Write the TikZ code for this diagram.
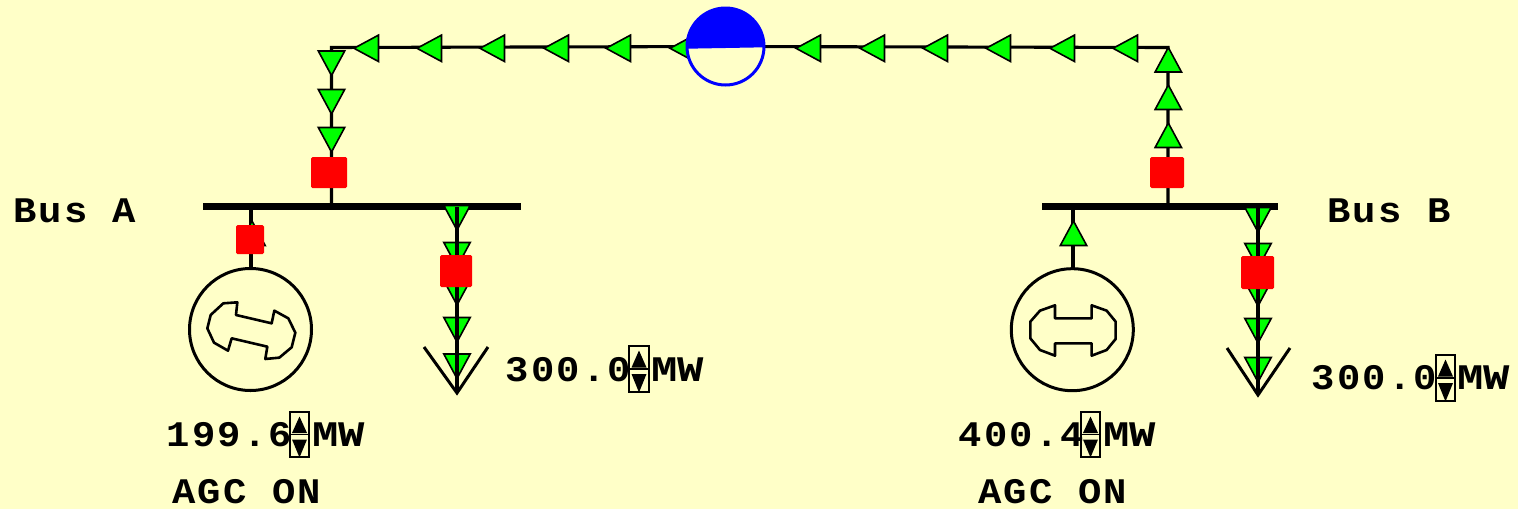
\documentclass[tikz,border=0pt]{standalone}
\usepackage{fontspec}
\setmainfont{Liberation Sans}
\newfontfamily\lblfont[FakeStretch=1.08,LetterSpace=6.2]{Liberation Mono}
\newfontfamily\unitfont[FakeStretch=1.22]{Liberation Mono}
\usetikzlibrary{calc}
\definecolor{bgyellow}{RGB}{255,255,200}
\definecolor{flowgreen}{RGB}{0,255,0}
\definecolor{breakerred}{RGB}{255,0,0}
\definecolor{flowblue}{RGB}{0,0,255}
\tikzset{
  wire/.style={draw=black,line width=3.1pt},
  busbar/.style={fill=black,draw=none,minimum height=7.5pt,inner sep=0pt,outer sep=0pt},
  breaker/.style={fill=breakerred,draw=none,rounded corners=1.5pt,inner sep=0pt,outer sep=0pt},
  flowtri/.style={fill=flowgreen,draw=black,line width=1.6pt,line join=miter},
  gencircle/.style={circle,draw=black,line width=3pt,minimum size=122pt,inner sep=0pt,outer sep=1pt},
  rotor/.style={draw=black,line width=2.6pt,line join=round},
  labelb/.style={inner sep=0pt,outer sep=0pt,anchor=base west,font=\lblfont\fontsize{36}{36}\selectfont\bfseries},
  unitlbl/.style={inner sep=0pt,outer sep=0pt,anchor=base west,font=\unitfont\fontsize{36}{36}\selectfont\bfseries},
  spinbox/.style={draw=black,line width=1.2pt,fill=none,inner sep=0pt},
  loadv/.style={draw=black,line width=3pt,line join=miter},
}
% flow triangle: tip at (#1,#2), direction angle #3 (y axis points down)
\newcommand{\flowtri}[3]{\draw[flowtri,shift={(#1,#2)},rotate=#3] (0,0) -- (-24.5,-13.2) -- (-24.5,13.2) -- cycle;}
% spinner: left, top, right, bottom (pixels)
\newcommand{\spinner}[4]{%
  \draw[spinbox] (#1,#2) rectangle (#3,#4);
  \draw[spinbox] (#1,{(#2+#4)/2}) -- (#3,{(#2+#4)/2});
  \fill[black] ({(#1+#3)/2},#2+4.5) -- ({(#1+#3)/2+7.5},{(#2+#4)/2-1.5}) -- ({(#1+#3)/2-7.5},{(#2+#4)/2-1.5}) -- cycle;
  \fill[black] ({(#1+#3)/2},#4+0.5) -- ({(#1+#3)/2+7.5},{(#2+#4)/2+5}) -- ({(#1+#3)/2-7.5},{(#2+#4)/2+5}) -- cycle;
}
\begin{document}
\begin{tikzpicture}[x=1pt,y=-1pt]
\useasboundingbox (0,0) rectangle (1518,509);
\fill[bgyellow] (0,0) rectangle (1518,509);

% --- buses
\node[busbar,minimum width=318pt] (busA) at (362,206.3) {};
\node[busbar,minimum width=236pt] (busB) at (1160,206.3) {};

% --- named points
\coordinate (cornerL) at (331.5,47.5);
\coordinate (cornerR) at (1168,47.5);
\coordinate (tapAtop) at (331.5,206.3);
\coordinate (tapBtop) at (1168,206.3);
\coordinate (tapAgen) at (251,206.3);
\coordinate (tapBgen) at (1073,206.3);
\coordinate (tapAload) at (457,207);
\coordinate (tapBload) at (1258,207);
\coordinate (tipA) at (457,393);
\coordinate (tipB) at (1258,395);
\coordinate (midTie) at (725.5,46.5);

% --- tie line
\draw[wire] (tapAtop) -- (cornerL) -- (midTie) -- (cornerR) -- (tapBtop);

% --- tie flow triangles
\foreach \t in {354,417,480,544,606,670,796,860,923,986,1050,1113}{\flowtri{\t}{48.3}{180}}
\foreach \t in {75.5,114,152}{\flowtri{331.5}{\t}{-90}}
\foreach \t in {47.5,85,123}{\flowtri{1168.3}{\t}{90}}

% --- generators
\node[gencircle] (genA) at (250.5,329.5) {};
\node[gencircle] (genB) at (1072.3,329.7) {};
\draw[wire] (tapAgen) -- (tapAgen |- genA.north);
\draw[wire] (tapBgen) -- (tapBgen |- genB.north);
\flowtri{252}{221}{90}
\flowtri{1073.5}{221}{90}

\begin{scope}[shift={(150,190)},x=0.3333pt,y=-0.3333pt]
\draw[rotor] (262,337)--(220,340)--(182,375)--(172,415)--(192,458)--(234,482)--(245,445)--(352,470)--(346,507)--(388,503)--(425,472)--(436,428)--(415,385)--(373,362)--(365,400)--(258,375)--cycle;
\end{scope}
\begin{scope}[shift={(950,195)},x=0.3333pt,y=-0.3333pt]
\draw[rotor] (315,331)--(270,347)--(241,380)--(241,430)--(270,465)--(315,482)--(315,445)--(425,445)--(425,482)--(470,465)--(497,432)--(497,380)--(470,347)--(425,331)--(425,370)--(315,370)--cycle;
\end{scope}

% --- load A
\foreach \t in {230,267,305,342,378.5}{\flowtri{457}{\t}{-90}}
\draw[wire] (tapAload) -- (tipA);
\coordinate (vAl) at (424,347);
\coordinate (vAr) at (488,347);
\draw[loadv] (vAl) -- (tipA) -- (vAr);

% --- load B
\foreach \t in {232,268,306,343,382}{\flowtri{1258}{\t}{-90}}
\draw[wire] (tapBload) -- (tipB);
\coordinate (vBl) at (1227,348);
\coordinate (vBr) at (1290,348);
\draw[loadv] (vBl) -- (tipB) -- (vBr);

% --- breakers
\node[breaker,minimum width=36pt,minimum height=31pt] (brkTieA) at (329,172.5) {};
\node[breaker,minimum width=34pt,minimum height=31pt] (brkTieB) at (1167,172.5) {};
\node[breaker,minimum width=28pt,minimum height=29pt] (brkGenA) at (250,239.5) {};
\node[breaker,minimum width=32pt,minimum height=32pt] (brkLoadA) at (456,271) {};
\node[breaker,minimum width=33pt,minimum height=33pt] (brkLoadB) at (1257.5,272.5) {};

% --- tie flow gauge
\fill[bgyellow] (midTie) circle[radius=38.5pt];
\fill[flowblue] (686.5,48.7) -- (764.5,47.3) arc[start angle=0,end angle=180,radius=39pt] -- cycle;
\node[circle,draw=flowblue,line width=3pt,minimum size=77pt,inner sep=0pt] (gauge) at (midTie) {};

% --- labels
\node[labelb] (lblBusA) at (13,222) {Bus A};
\node[labelb] (lblBusB) at (1327,222) {Bus B};

\node[labelb] (valA) at (166.5,446) {199.6};
\spinner{290}{412}{309}{457}
\node[unitlbl] (mwA) at (312.5,446) {MW};
\node[labelb] (agcA) at (172,503) {AGC ON};

\node[labelb] (valB) at (958.5,446) {400.4};
\spinner{1081}{412}{1100}{457}
\node[unitlbl] (mwB) at (1103,446) {MW};
\node[labelb] (agcB) at (978,503) {AGC ON};

\node[labelb] (loadValA) at (505.5,381) {300.0};
\spinner{629}{346}{649}{392}
\node[unitlbl] (mwLA) at (651,381) {MW};

\node[labelb] (loadValB) at (1311.5,389) {300.0};
\spinner{1436}{355}{1455}{401}
\node[unitlbl] (mwLB) at (1457,389) {MW};
\end{tikzpicture}
\end{document}
